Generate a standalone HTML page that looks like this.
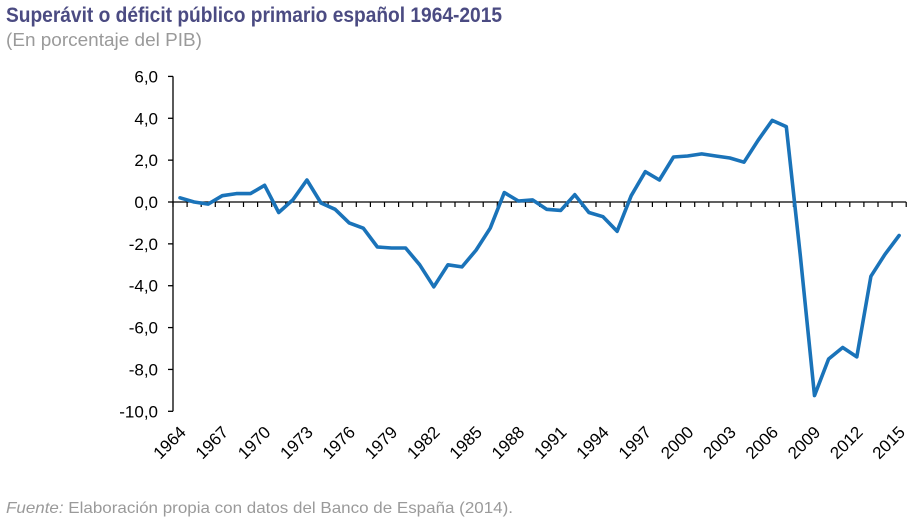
<!DOCTYPE html>
<html><head><meta charset="utf-8"><style>
body{margin:0;background:#fff;width:919px;height:519px;overflow:hidden;font-family:"Liberation Sans",sans-serif}
</style></head><body>
<svg id="chart" width="919" height="519" xmlns="http://www.w3.org/2000/svg">
<text x="6" y="22" font-size="21" font-weight="bold" fill="#4b4b82" textLength="496" lengthAdjust="spacingAndGlyphs">Superávit o déficit público primario español 1964-2015</text>
<text x="6" y="46" font-size="18" fill="#9a9a9a" textLength="196" lengthAdjust="spacingAndGlyphs">(En porcentaje del PIB)</text>
<text x="6" y="513" font-size="16" fill="#9a9a9a" textLength="507" lengthAdjust="spacingAndGlyphs"><tspan font-style="italic">Fuente:</tspan> Elaboración propia con datos del Banco de España (2014).</text>
<g id="axes"></g>
<g id="series"></g>
</svg>
<script>
const years=[];for(let y=1964;y<=2015;y++)years.push(y);
const values=[0.2,0.0,-0.1,0.3,0.4,0.4,0.8,-0.5,0.1,1.05,-0.05,-0.35,-1.0,-1.25,-2.15,-2.2,-2.2,-3.0,-4.05,-3.0,-3.1,-2.3,-1.25,0.45,0.05,0.1,-0.35,-0.4,0.35,-0.5,-0.7,-1.4,0.3,1.45,1.05,2.15,2.2,2.3,2.2,2.1,1.9,2.95,3.9,3.6,-2.6,-9.25,-7.5,-6.95,-7.4,-3.55,-2.5,-1.6];
const yTicks=[6,4,2,0,-2,-4,-6,-8,-10];
const yTickLabels=["6,0","4,0","2,0","0,0","-2,0","-4,0","-6,0","-8,0","-10,0"];
const NS="http://www.w3.org/2000/svg";
const x0=173,step=14.1;
const X=i=>x0+7+i*step;
const Y=v=>202-v*20.93;
const axes=document.getElementById('axes'),series=document.getElementById('series');
function mk(t,a,p){const e=document.createElementNS(NS,t);for(const k in a)e.setAttribute(k,a[k]);p.appendChild(e);return e;}
let e=mk('line',{x1:x0,y1:Y(6),x2:x0,y2:Y(-10),stroke:'#000','stroke-width':1.3},axes);


yTicks.forEach((v,i)=>{
 let t=mk('line',{x1:x0-5,y1:Y(v),x2:x0,y2:Y(v),stroke:'#000','stroke-width':1.3},axes);
 
 
 let l=mk('text',{x:158,y:Y(v)+6,'text-anchor':'end','font-size':17,fill:'#000'},axes);
 l.textContent=yTickLabels[i];
 
 
});
e=mk('line',{x1:x0,y1:Y(0),x2:x0+years.length*step,y2:Y(0),stroke:'#000','stroke-width':1.3},axes);


for(let i=0;i<=years.length;i++){
 let t=mk('line',{x1:x0+i*step,y1:Y(0),x2:x0+i*step,y2:Y(0)+5,stroke:'#000','stroke-width':1.2},axes);
 
 
}
years.forEach((yr,i)=>{
 if((yr-1964)%3!==0)return;
 const lx=X(i)+7,ly=Y(-10)+22;
 let l=mk('text',{x:lx,y:ly,'text-anchor':'end','font-size':17,fill:'#000',transform:`rotate(-45 ${lx} ${ly})`},axes);
 l.textContent=yr;
 
 
});
const pts=values.map((v,i)=>X(i).toFixed(1)+','+Y(v).toFixed(1)).join(' ');
e=mk('polyline',{points:pts,fill:'none',stroke:'#1a73b9','stroke-width':3.6,'stroke-linejoin':'round','stroke-linecap':'round'},series);


</script>
</body></html>
